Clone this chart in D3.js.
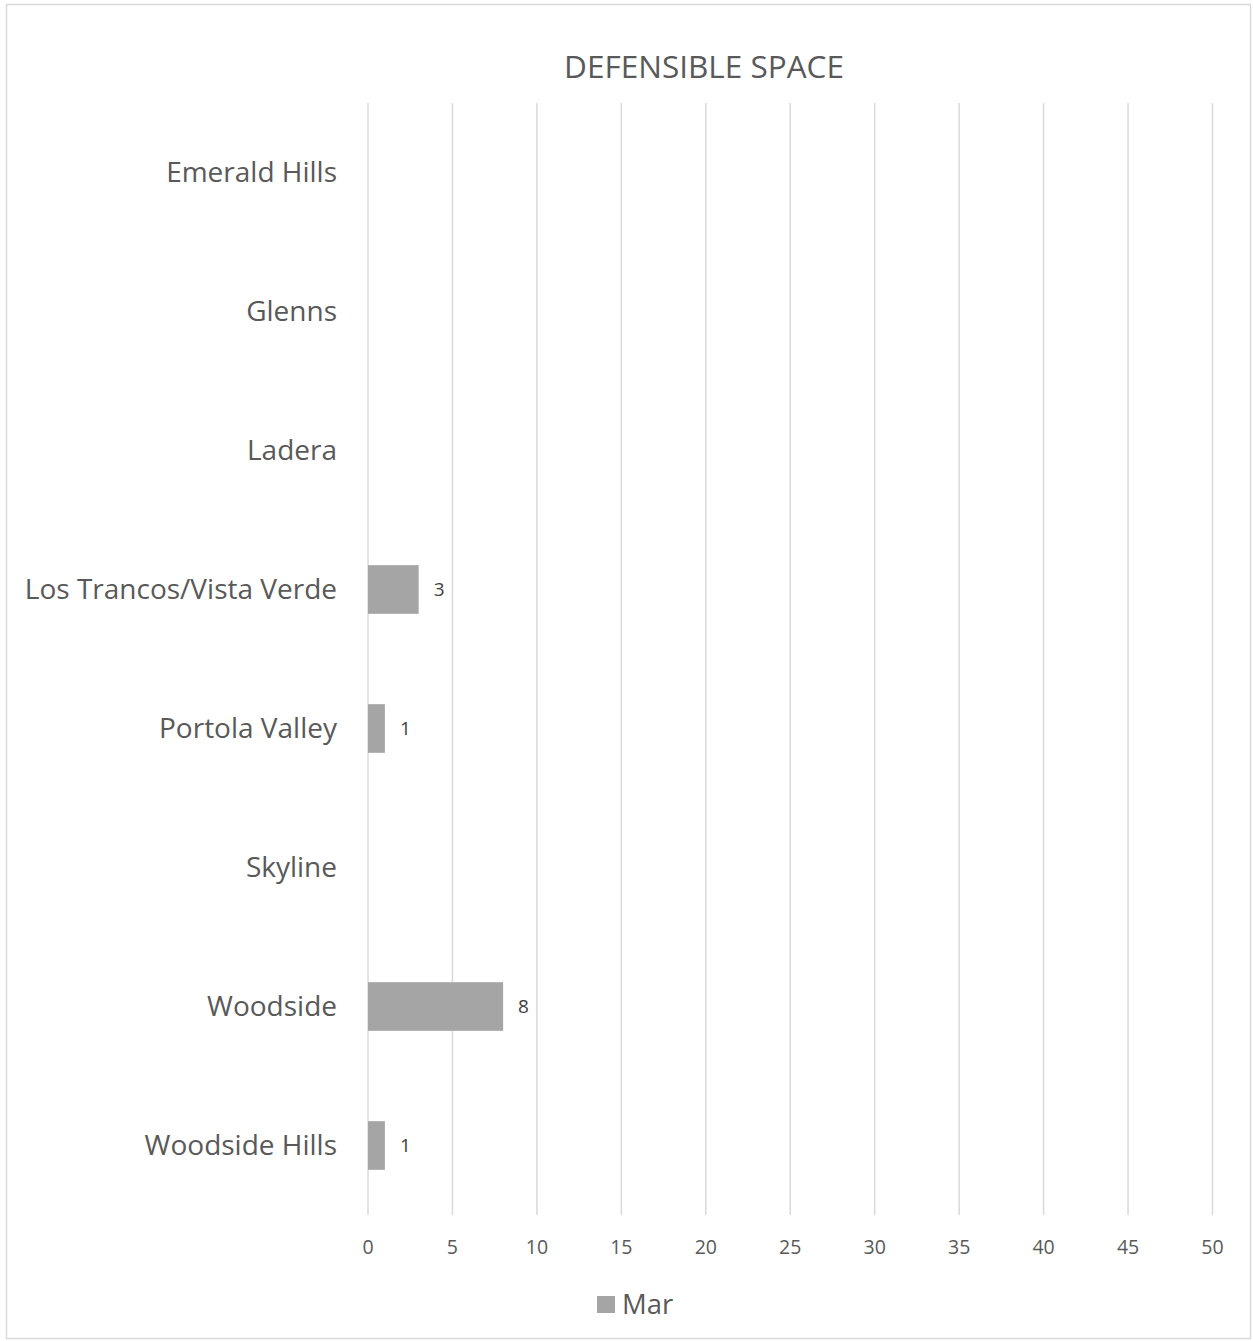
<!DOCTYPE html>
<html>
<head>
<meta charset="utf-8">
<script src="https://cdn.jsdelivr.net/npm/d3@7"></script>
<style>
  body { margin: 0; background: #fff; }
  text { font-family: "Open Sans", "Noto Sans", sans-serif; fill: #595959; }
</style>
</head>
<body>
<svg id="chart"></svg>
<script>
// chart data
const categories = ["Emerald Hills", "Glenns", "Ladera", "Los Trancos/Vista Verde",
    "Portola Valley", "Skyline", "Woodside", "Woodside Hills"];
const marValues = [null, null, null, 3, 1, null, 8, 1];
const xTicks = [0, 5, 10, 15, 20, 25, 30, 35, 40, 45, 50];
const seriesName = "Mar";

const width = 1253, height = 1341;
const margin = { top: 103, right: 39, bottom: 126, left: 368 };

const svg = d3.select("#chart")
    .attr("width", width)
    .attr("height", height);

// outer border
svg.append("rect")
    .attr("x", 6.5).attr("y", 4.5)
    .attr("width", width - 9).attr("height", height - 7)
    .attr("fill", "#fff")
    .attr("stroke", "#d9d9d9")
    .attr("stroke-width", 1.5);

const x = d3.scaleLinear()
    .domain([0, 50])
    .range([margin.left, width - margin.right - 1.5]);

const y = d3.scaleBand()
    .domain(categories)
    .range([margin.top, height - margin.bottom])
    .paddingInner(0.65)
    .paddingOuter(0.325);

// gridlines
svg.append("g")
    .selectAll("line")
    .data(xTicks)
    .enter()
    .append("line")
    .attr("x1", d => x(d)).attr("x2", d => x(d))
    .attr("y1", margin.top).attr("y2", height - margin.bottom)
    .attr("stroke", "#d9d9d9")
    .attr("stroke-width", 1.5);

// x tick labels
svg.append("g")
    .selectAll("text")
    .data(xTicks)
    .enter()
    .append("text")
    .attr("x", d => x(d))
    .attr("y", 1254)
    .attr("text-anchor", "middle")
    .attr("font-size", "19.5px")
    .text(d => d);

// category labels
svg.append("g")
    .selectAll("text")
    .data(categories)
    .enter()
    .append("text")
    .attr("x", margin.left - 31)
    .attr("y", d => y(d) + y.bandwidth() / 2)
    .attr("dy", "0.35em")
    .attr("text-anchor", "end")
    .attr("font-size", "28px")
    .text(d => d);

// bars
const rows = categories.map((c, i) => ({ cat: c, v: marValues[i] })).filter(d => d.v != null);

svg.append("g")
    .selectAll("rect")
    .data(rows)
    .enter()
    .append("rect")
    .attr("x", x(0))
    .attr("y", d => y(d.cat))
    .attr("width", d => x(d.v) - x(0))
    .attr("height", y.bandwidth())
    .attr("fill", "#a5a5a5");

// data labels
svg.append("g")
    .selectAll("text")
    .data(rows)
    .enter()
    .append("text")
    .attr("x", d => x(d.v) + 15)
    .attr("y", d => y(d.cat) + y.bandwidth() / 2)
    .attr("dy", "0.35em")
    .attr("font-size", "19px")
    .style("fill", "#404040")
    .text(d => d.v);

// title
svg.append("text")
    .attr("x", 704)
    .attr("y", 78)
    .attr("text-anchor", "middle")
    .attr("font-size", "31.5px")
    .text("DEFENSIBLE SPACE");

// legend
svg.append("rect")
    .attr("x", 597).attr("y", 1296)
    .attr("width", 18).attr("height", 17)
    .attr("fill", "#a5a5a5");
svg.append("text")
    .attr("x", 622)
    .attr("y", 1314)
    .attr("font-size", "27.5px")
    .text(seriesName);
</script>
</body>
</html>
